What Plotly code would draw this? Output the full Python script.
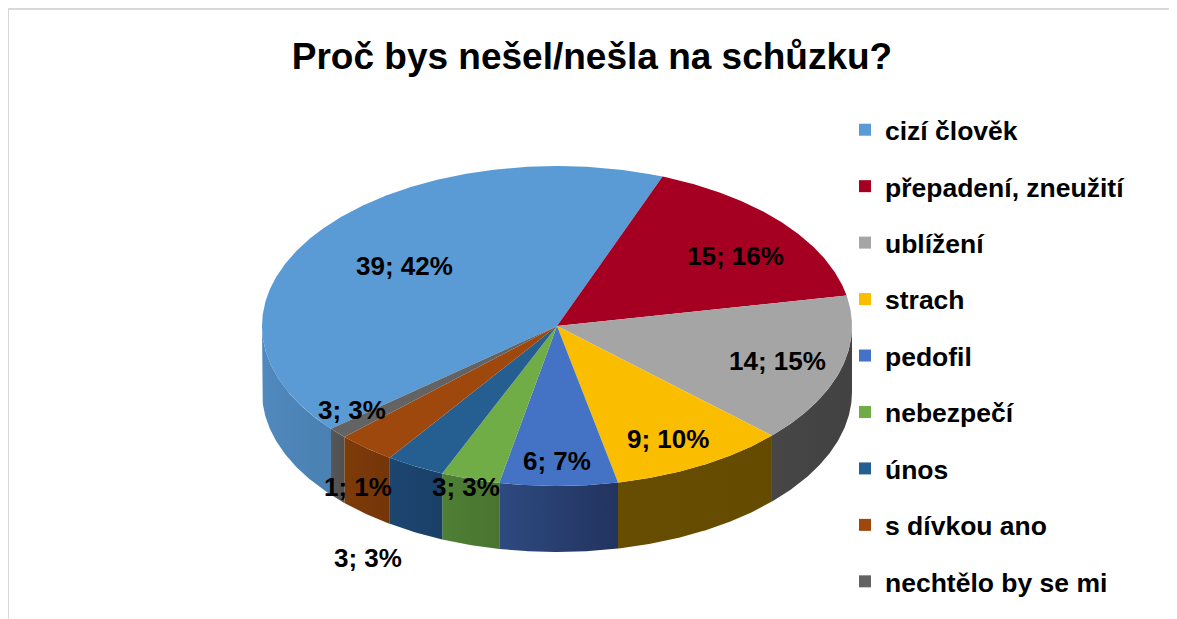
import numpy as np
import plotly.graph_objects as go

categories = ['cizí člověk', 'přepadení, zneužití', 'ublížení', 'strach', 'pedofil',
              'nebezpečí', 'únos', 's dívkou ano', 'nechtělo by se mi']
values = [39, 15, 14, 9, 6, 3, 3, 3, 1]
percents = [42, 16, 15, 10, 7, 3, 3, 3, 1]
colors = ['#5B9BD5', '#A50021', '#A5A5A5', '#FBBD00', '#4472C4',
          '#70AD47', '#255E91', '#9E480E', '#636363']
side_left = ['#5089BD', '#7A0018', '#464646', '#664D00', '#2E4A80',
             '#4F7F35', '#1C4570', '#7E3B0A', '#565656']
side_right = ['#4A80B2', '#7A0018', '#424242', '#644B00', '#22335F',
              '#4A7430', '#1A4068', '#743508', '#505050']

# the page has an 8px body margin, so the axes run from 8 to keep page pixels
page_w, page_h, offset = 1177, 619, 8
cx, cy, rx, ry, depth = 557, 326, 295, 160, 66
start = 230  # where the first slice starts, degrees clockwise from the top
label_pos = [(404, 266), (735, 256), (777, 361), (668, 439), (557, 461),
             (466, 487), (368, 558), (352, 410), (358, 487)]


def rim(a, b, dy=0):
    t = np.radians(np.linspace(a, b, max(int(abs(b - a)) * 2, 2)))
    return cx + rx * np.sin(t), cy - ry * np.cos(t) + dy


fig = go.Figure()

ends = start + 360 * np.cumsum(values) / sum(values)
begins = np.concatenate([[start], ends[:-1]])

# side walls first, only the part of the rim that faces us
for b, e, left, right in zip(begins, ends, side_left, side_right):
    for s0, s1 in [(max(b, 90), min(e, 270)), (max(b, 450), min(e, 630))]:
        if s1 <= s0:
            continue
        x1, y1 = rim(s0, s1)
        x2, y2 = rim(s1, s0, depth)
        fig.add_trace(go.Scatter(
            x=np.concatenate([x1, x2]), y=np.concatenate([y1, y2]),
            mode='lines', line=dict(width=0), fill='toself',
            fillgradient=dict(type='horizontal', colorscale=[[0, left], [1, right]]),
            showlegend=False, hoverinfo='skip'))

# top faces
for b, e, c in zip(begins, ends, colors):
    x, y = rim(b, e)
    fig.add_trace(go.Scatter(
        x=np.concatenate([[cx], x, [cx]]), y=np.concatenate([[cy], y, [cy]]),
        mode='lines', line=dict(width=0), fill='toself', fillcolor=c,
        showlegend=False, hoverinfo='skip'))

# legend entries
for i, (name, c) in enumerate(zip(categories, colors)):
    fig.add_trace(go.Scatter(
        x=[None], y=[None], mode='markers', name=name, legendgroup=str(i),
        marker=dict(symbol='square', size=13, color=c)))

# data labels
for v, p, (lx, ly) in zip(values, percents, label_pos):
    fig.add_annotation(x=lx, y=ly, text=f'{v}; {p}%', showarrow=False,
                       font=dict(size=26, color='#000000', family='Liberation Sans',
                                 weight='bold'))

w, h = page_w - offset, page_h - offset
fig.update_layout(
    title=dict(text='<b>Proč bys nešel/nešla na schůzku?</b>',
               x=(592 - offset) / w, y=1 - (56 - offset) / h,
               xanchor='center', yanchor='middle',
               font=dict(size=37, color='#000000', family='Liberation Sans')),
    width=w, height=h,
    margin=dict(l=0, r=0, t=0, b=0),
    paper_bgcolor='white', plot_bgcolor='white',
    xaxis=dict(range=[offset, page_w], visible=False, fixedrange=True),
    yaxis=dict(range=[page_h, offset], visible=False, fixedrange=True),
    legend=dict(x=(845 - offset) / w, y=1 - (106 - offset) / h,
                xanchor='left', yanchor='top',
                tracegroupgap=19, itemsizing='constant',
                font=dict(size=26.5, color='#000000', family='Liberation Sans',
                          weight='bold'),
                bgcolor='rgba(0,0,0,0)'),
    shapes=[
        dict(type='line', xref='paper', yref='paper', x0=0, x1=0,
             y0=0, y1=1 - 1 / h, line=dict(color='#D9D9D9', width=2)),
        dict(type='line', xref='paper', yref='paper', x0=0, x1=1,
             y0=1 - 1 / h, y1=1 - 1 / h, line=dict(color='#D9D9D9', width=2)),
    ],
)

fig.write_html("out.html")
